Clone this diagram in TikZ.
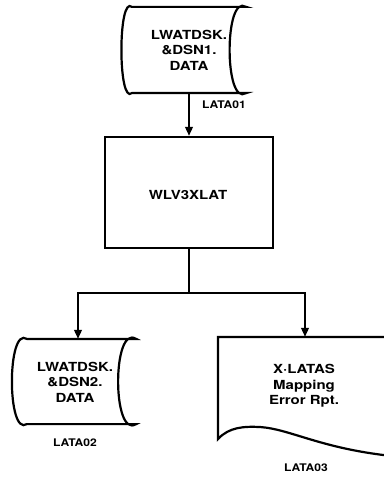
\documentclass[tikz,border=0pt]{standalone}
\usepackage{fontspec}
\usetikzlibrary{arrows.meta}
\newfontfamily\lab{TeX Gyre Heros}[FakeStretch=1.2]
\newfontfamily\labsmall{TeX Gyre Heros}[FakeStretch=1.15]
\begin{document}
\begin{tikzpicture}[x=1pt,y=-1pt,
  line width=2.2pt,
  txt/.style={font=\lab\bfseries\fontsize{12.5}{15.5}\selectfont, align=center, inner sep=0pt},
  lbl/.style={font=\labsmall\bfseries\fontsize{10.5}{12}\selectfont, inner sep=0pt},
  arr/.style={-{Triangle[length=9pt,width=7.5pt]}},
  frame/.style={draw=none, inner sep=0pt}]
\useasboundingbox (0,0) rectangle (383,478);
% input storage
\node[frame, minimum width=112pt, minimum height=84pt] (in1) at (189,50) {};
\node[txt] (in1t) at (in1.center) {LWATDSK.\\\&DSN1.\\DATA};
\draw (in1.north east) -- (in1.north west)
  .. controls ([xshift=-14pt,yshift=12pt]in1.north west) and ([xshift=-14pt,yshift=-12pt]in1.south west) .. (in1.south west)
  -- (in1.south east)
  .. controls ([xshift=-22pt,yshift=-14pt]in1.south east) and ([xshift=-22pt,yshift=14pt]in1.north east) .. (in1.north east) -- cycle;
\node[lbl] (l1) at (224,105) {LATA01};
% program box
\node[draw, minimum width=168pt, minimum height=111pt, inner sep=0pt] (prog) at (189,192.5) {};
\node[txt] (progt) at (188,195) {WLV3XLAT};
% output storage
\node[frame, minimum width=107pt, minimum height=83pt] (out1) at (81.5,381.5) {};
\node[txt] (out1t) at (75,382) {LWATDSK.\\\&DSN2.\\DATA};
\draw (out1.north east) -- (out1.north west)
  .. controls ([xshift=-20pt,yshift=13pt]out1.north west) and ([xshift=-20pt,yshift=-13pt]out1.south west) .. (out1.south west)
  -- (out1.south east)
  .. controls ([xshift=-24pt,yshift=-15pt]out1.south east) and ([xshift=-24pt,yshift=15pt]out1.north east) .. (out1.north east) -- cycle;
\node[lbl] (l2) at (75,443) {LATA02};
% report document
\node[frame, minimum width=164pt, minimum height=100pt] (doc) at (301,388) {};
\node[txt] (doct) at (304,386) {X·LATAS\\Mapping\\Error Rpt.};
\draw (doc.north east) -- (doc.north west) -- (doc.south west)
  .. controls ([xshift=11pt,yshift=12pt]doc.south west) and ([xshift=26pt,yshift=13pt]doc.south west) .. ([xshift=43pt,yshift=12pt]doc.south west)
  .. controls ([xshift=71pt,yshift=10pt]doc.south west) and ([xshift=101pt,yshift=-8pt]doc.south west) .. ([yshift=-16pt]doc.south east);
\node[lbl] (l3) at (306,468) {LATA03};
% connectors
\coordinate (j) at (189,293);
\draw[arr] (in1.south) -- (prog.north);
\draw (prog.south) -- (j);
\draw[arr] (j) -| ([xshift=-3.5pt]out1.north);
\draw[arr] (j) -| ([xshift=4pt]doc.north);
\end{tikzpicture}
\end{document}
